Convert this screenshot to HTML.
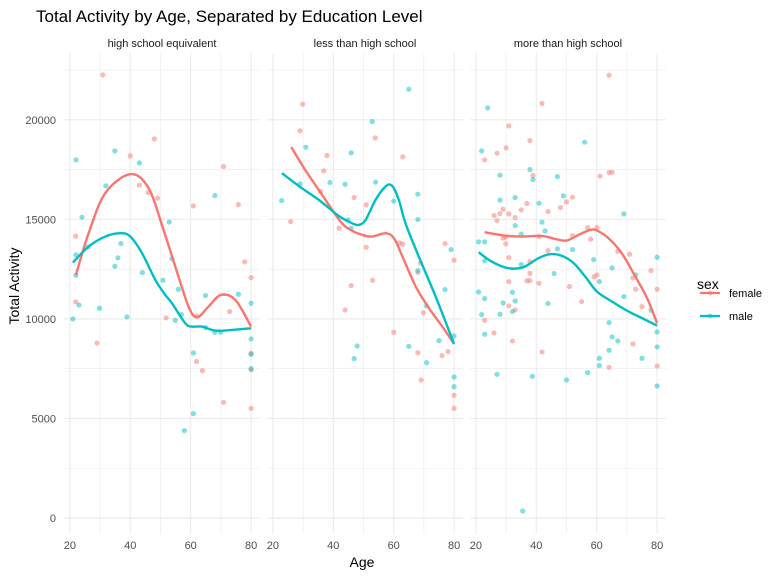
<!DOCTYPE html>
<html><head><meta charset="utf-8"><style>
body{margin:0;background:#fff;font-family:"Liberation Sans",sans-serif}
svg text{font-family:"Liberation Sans",sans-serif}
</style></head><body>
<svg id="chart" width="768" height="576" xmlns="http://www.w3.org/2000/svg">
<text x="36" y="22" font-size="17" fill="#000">Total Activity by Age, Separated by Education Level</text>
<text x="362" y="567" font-size="14" text-anchor="middle">Age</text>
<text transform="translate(19,286) rotate(-90)" font-size="14" text-anchor="middle">Total Activity</text>
<g>
<text x="697" y="289" font-size="14">sex</text>
<g><line x1="700" y1="293" x2="720" y2="293" stroke="#F8766D" stroke-width="2.2"/><circle cx="710" cy="293" r="2.5" fill="#F8766D" opacity="0.5"/><text x="729" y="297" font-size="11">female</text></g>
<g><line x1="700" y1="316" x2="720" y2="316" stroke="#00BFC4" stroke-width="2.2"/><circle cx="710" cy="316" r="2.5" fill="#00BFC4" opacity="0.5"/><text x="729" y="320" font-size="11">male</text></g>
</g>
<g id="plots"></g>
</svg>
<script>
const panels=["high school equivalent","less than high school","more than high school"];
const xTicks=[20,40,60,80];
const yTicks=[0,5000,10000,15000,20000];
const p1FemaleAge=[30.9,48,40,43,45.9,49,21.9,60.9,70.9,75.8,77.9,80,21.9,29,51.9,62,72.9,61.9,63.9,80,80,70.9,80];
const p1FemaleVal=[22260,19045,18190,16717,16350,16064,14154,15678,17655,15746,12865,12077,10855,8794,10050,10151,10370,7856,7404,8275,7437,5813,5511];
const p1MaleAge=[22,34.9,43,31.9,24,26,22,36.9,35.9,34.9,44,22,23,29.8,21,38.9,52.9,53.8,50.8,55.9,56.9,54.9,64.9,68,75.8,80,64.9,68,69.9,80,80,80,60.9,60.9,57.9];
const p1MaleVal=[17990,18442,17839,16684,15109,13618,13216,13786,13065,12646,12329,12195,10704,10536,9997,10101,14865,13032,11943,11491,10218,9933,11173,16198,11240,10787,9565,9330,9330,8995,8225,7504,8291,5243,4389];
const p2FemaleAge=[29.9,29,25.9,37.9,36.8,35.8,53.9,63,46.9,50.9,41.9,62,63,50.9,77,80,68.9,68,45.9,53,43.9,69.9,60,68,76,78,69.1,80,80];
const p2FemaleVal=[20787,19447,14891,18208,17437,16399,19095,18141,16098,15729,14556,13819,13752,13601,13785,12949,12815,12329,11675,11943,10453,10318,9331,8308,8158,8359,6935,6165,5511];
const p2MaleAge=[65,52.9,30.9,45.9,22.9,29,38.9,43.9,54,60,68,68,44.9,45.9,68,77,79,70.9,47.9,46.9,65,75,70.9,80,80,80];
const p2MaleVal=[21541,19916,18627,18342,15947,16784,16851,16767,16868,15913,16265,14992,14975,14556,12430,11474,13484,10654,8643,8007,8626,8911,7806,9146,7086,6600];
const p3FemaleAge=[64.1,41.9,30.9,37.9,30,27,22.9,38.9,61.1,64.1,65.1,52,50,48,43.9,36.9,35,29,27.9,30.9,33,26,27,29,29.9,29.9,40.9,52,57,60.1,58,67,70.9,43.9,30.9,37.9,37.9,36.9,37.9,40.9,60.1,59.1,72,78,72.9,80,51,55,30.9,30.9,33,75,22.9,26,32.1,41.9,72,64.1,80];
const p3FemaleVal=[22244,20821,19698,18961,18593,18325,17990,17203,17169,17354,17370,16114,15880,15595,15394,15796,15478,15511,15293,15277,15092,15193,14941,14054,14121,13769,14138,14188,14590,14590,14003,13400,13250,13434,13082,12881,12295,11910,11927,11793,12211,12111,12061,12429,11491,11491,11625,10871,11876,10654,10453,10620,9933,9297,8895,8342,8744,7571,7638];
const p3MaleAge=[23.9,56,21.9,37.9,28,38.9,47,49,33,28,40.9,41.9,33,42.9,35,20.9,22.9,22.9,35,47,52,59,65.1,69,60.9,72.9,80,45.9,20.9,22.9,32.1,29,33,32.1,43.9,21.9,28,22.9,69,78,64.1,65.1,67,80,80,60.9,64.1,60.9,75,27,38.7,50,57,80,35.5];
const p3MaleVal=[20603,18878,18442,17504,17219,17002,17152,16181,16097,15964,15813,14858,14690,14422,14255,13870,13870,12915,12731,13518,13484,12982,12563,15277,11876,12211,13099,12279,11357,11022,11340,10804,10905,10369,10771,10218,10235,9230,11123,10436,9816,9096,8895,9347,8593,8024,8426,7655,8024,7219,7119,6935,7303,6633,352];
const p1FemaleSmAge=[22,26.2,31.7,40,46.1,51,54.9,59.3,62.1,65.9,70,74.8,80];
const p1FemaleSmVal=[12211,14305,16315,17270,16566,14472,12630,10620,10084,10620,11206,10955,9615];
const p1MaleSmAge=[21,26.2,31.7,36.7,40,43.9,48.3,51.6,53.8,58.2,60.4,63.7,68.2,73.7,80];
const p1MaleSmVal=[12831,13635,14138,14305,14138,13300,11960,11206,10788,9783,9615,9615,9414,9448,9531];
const p2FemaleSmAge=[26.1,30.7,36.3,42.4,45.7,49.6,52.9,57.3,60.1,62.9,67.3,71.7,76.1,80];
const p2FemaleSmVal=[18627,17487,16231,14891,14472,14221,14137,14305,14054,13133,11625,10536,9615,8744];
const p2MaleSmAge=[23,29.6,35.2,41.8,46.2,48.5,50.7,54,57.3,59.5,61.7,63.9,68.3,73.9,80];
const p2MaleSmVal=[17320,16566,15980,15176,14808,14724,14975,15980,16650,16684,15980,14808,13133,11123,8744];
const p3FemaleSmAge=[22.9,29.6,35.2,41.8,46.2,50,54,57.8,60.1,63.9,68.3,72.8,76.7,80];
const p3FemaleSmVal=[14355,14188,14138,14171,14020,13936,14221,14472,14439,14054,13300,12127,11039,9783];
const p3MaleSmAge=[20.9,25.2,30.7,35.7,40.7,44.6,48.5,52.4,56.2,60.1,65.1,70.6,75.1,80];
const p3MaleSmVal=[13350,12882,12546,12597,13049,13250,13166,12798,12127,11373,10871,10369,10034,9666];

const NS="http://www.w3.org/2000/svg";
const root=document.getElementById('plots');
const panelLeft=[64,267,470], panelW=196, xMin=18.05, xMax=82.95;
const yTop=53, yBot=533.5, vMin=-777, vMax=23357;
function yS(v){return yBot-(v-vMin)/(vMax-vMin)*(yBot-yTop);}
function xS(p,a){return panelLeft[p]+(a-xMin)/(xMax-xMin)*panelW;}
function mk(tag,attrs,parent){const e=document.createElementNS(NS,tag);for(const k in attrs)e.setAttribute(k,attrs[k]);parent.appendChild(e);return e;}
const pts=[[p1FemaleAge,p1FemaleVal,p1MaleAge,p1MaleVal,p1FemaleSmAge,p1FemaleSmVal,p1MaleSmAge,p1MaleSmVal],
[p2FemaleAge,p2FemaleVal,p2MaleAge,p2MaleVal,p2FemaleSmAge,p2FemaleSmVal,p2MaleSmAge,p2MaleSmVal],
[p3FemaleAge,p3FemaleVal,p3MaleAge,p3MaleVal,p3FemaleSmAge,p3FemaleSmVal,p3MaleSmAge,p3MaleSmVal]];
for(let p=0;p<3;p++){
  const g=mk('g',{},root);
  
  
  const L=panelLeft[p],R=L+panelW;
  for(let v=0;v<=22500;v+=2500){const major=v%5000===0;mk('line',{x1:L,x2:R,y1:yS(v),y2:yS(v),stroke:'#ebebeb','stroke-width':major?1.1:0.6},g);}
  for(let a=20;a<=80;a+=10){const major=a%20===0;mk('line',{x1:xS(p,a),x2:xS(p,a),y1:yTop,y2:yBot,stroke:'#ebebeb','stroke-width':major?1.1:0.6},g);}
  const st=mk('text',{x:L+panelW/2,y:47,'font-size':11,'text-anchor':'middle',fill:'#1a1a1a'},g);
  st.textContent=panels[p];
  
  
  xTicks.forEach(t=>{const tx=mk('text',{x:xS(p,t),y:549,'font-size':11,'text-anchor':'middle',fill:'#4d4d4d'},g);tx.textContent=t;
    
    });
  if(p===0){yTicks.forEach(t=>{const ty=mk('text',{x:56,y:yS(t)+4,'font-size':11,'text-anchor':'end',fill:'#4d4d4d'},g);ty.textContent=t;
    
    });}
  const d=pts[p];
  [[0,1,'#F8766D','female'],[2,3,'#00BFC4','male']].forEach(([ai,vi,c,n])=>{
    d[ai].forEach((a,i)=>{const cc=mk('circle',{cx:xS(p,a),cy:yS(d[vi][i]),r:2.6,fill:c,'fill-opacity':0.5},g);
      
      });
  });
  [[4,5,'#F8766D','female'],[6,7,'#00BFC4','male']].forEach(([ai,vi,c,n])=>{
    const pts2=d[ai].map((a,i)=>[xS(p,a),yS(d[vi][i])]);
    let s='M'+pts2[0][0]+','+pts2[0][1];
    for(let i=0;i<pts2.length-1;i++){const p0=pts2[Math.max(0,i-1)],p1=pts2[i],p2=pts2[i+1],p3=pts2[Math.min(pts2.length-1,i+2)];
      s+=' C'+(p1[0]+(p2[0]-p0[0])/6)+','+(p1[1]+(p2[1]-p0[1])/6)+' '+(p2[0]-(p3[0]-p1[0])/6)+','+(p2[1]-(p3[1]-p1[1])/6)+' '+p2[0]+','+p2[1];}
    const ln=mk('path',{d:s,fill:'none',stroke:c,'stroke-width':2.4},g);
    
    
  });
}
</script>
</body></html>
